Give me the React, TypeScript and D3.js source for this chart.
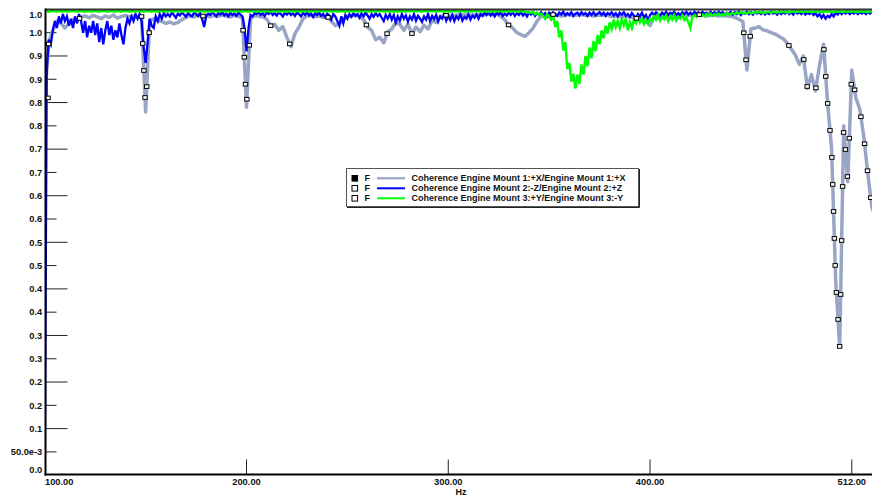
import React, { useMemo } from 'react';
import * as d3 from 'd3';

// ---------------- DATA ----------------
const START_HZ = 100;
const END_HZ = 512;
const GRAY_STEP_HZ = 2;
const BLUE_STEP_HZ = 1;
const GREEN_STEP_HZ = 1;

const seriesNames = [
  'Coherence Engine Mount 1:+X/Engine Mount 1:+X',
  'Coherence Engine Mount 2:-Z/Engine Mount 2:+Z',
  'Coherence Engine Mount 3:+Y/Engine Mount 3:-Y',
];

// Mount 1 (+X) coherence, 2 Hz resolution, 100..512 Hz
const mount1Values = [
  0.81, 0.93, 0.955, 0.975, 0.97, 0.96, 0.97, 0.978, 0.975, 0.984,
  0.986, 0.982, 0.987, 0.984, 0.98, 0.986, 0.983, 0.988, 0.981, 0.985,
  0.987, 0.984, 0.986, 0.983, 0.985, 0.78, 0.975, 0.98, 0.976, 0.974,
  0.97, 0.973, 0.969, 0.972, 0.978, 0.983, 0.986, 0.984, 0.987, 0.985,
  0.988, 0.984, 0.987, 0.985, 0.988, 0.986, 0.984, 0.987, 0.985, 0.982,
  0.79, 0.98, 0.987, 0.985, 0.984, 0.979, 0.965, 0.968, 0.955, 0.963,
  0.94, 0.92, 0.948, 0.962, 0.98, 0.986, 0.987, 0.984, 0.986, 0.983,
  0.985, 0.975, 0.965, 0.97, 0.978, 0.984, 0.986, 0.988, 0.985, 0.978,
  0.962, 0.955, 0.935, 0.94, 0.928, 0.952, 0.958, 0.972, 0.968, 0.955,
  0.968, 0.948, 0.962, 0.952, 0.966, 0.958, 0.976, 0.972, 0.985, 0.987,
  0.988, 0.986, 0.988, 0.987, 0.989, 0.986, 0.988, 0.987, 0.989, 0.988,
  0.99, 0.989, 0.99, 0.985, 0.978, 0.966, 0.96, 0.95, 0.946, 0.942,
  0.95, 0.96, 0.975, 0.985, 0.988, 0.987, 0.989, 0.988, 0.986, 0.988,
  0.989, 0.987, 0.988, 0.989, 0.987, 0.988, 0.986, 0.988, 0.987, 0.989,
  0.986, 0.984, 0.986, 0.983, 0.985, 0.984, 0.982, 0.98, 0.978, 0.975,
  0.965, 0.984, 0.987, 0.988, 0.986, 0.988, 0.989, 0.987, 0.988, 0.986,
  0.988, 0.987, 0.989, 0.988, 0.986, 0.987, 0.988, 0.986, 0.987, 0.986,
  0.985, 0.983, 0.979, 0.974, 0.87, 0.958, 0.96, 0.963, 0.956, 0.954,
  0.95, 0.947, 0.942, 0.937, 0.928, 0.915, 0.902, 0.882, 0.9, 0.83,
  0.86, 0.825, 0.88, 0.925, 0.8, 0.7, 0.42, 0.275, 0.75, 0.63,
  0.87, 0.81, 0.785, 0.725, 0.645, 0.575, 0.55,
];

// Mount 2 (-Z) coherence, 1 Hz resolution, 100..512 Hz
const mount2Values = [
  0.0, 0.87, 0.935, 0.925, 0.955, 0.975, 0.96, 0.985, 0.97, 0.99,
  0.975, 0.985, 0.965, 0.98, 0.96, 0.985, 0.97, 0.99, 0.975, 0.95,
  0.975, 0.94, 0.965, 0.95, 0.975, 0.945, 0.97, 0.93, 0.96, 0.925,
  0.955, 0.975, 0.945, 0.965, 0.935, 0.955, 0.94, 0.97, 0.945, 0.925,
  0.96, 0.98, 0.97, 0.985, 0.975, 0.99, 0.98, 0.99, 0.975, 0.92,
  0.885, 0.93, 0.98, 0.965, 0.96, 0.985, 0.975, 0.99, 0.98, 0.992,
  0.985, 0.99, 0.985, 0.993, 0.988, 0.982, 0.991, 0.987, 0.994, 0.989,
  0.984, 0.992, 0.988, 0.985, 0.993, 0.99, 0.986, 0.992, 0.98, 0.962,
  0.985, 0.991, 0.988, 0.994, 0.99, 0.985, 0.992, 0.989, 0.994, 0.987,
  0.991, 0.985, 0.993, 0.988, 0.991, 0.986, 0.993, 0.989, 0.985, 0.96,
  0.91, 0.96, 0.988, 0.985, 0.992, 0.99, 0.994, 0.988, 0.992, 0.986,
  0.993, 0.99, 0.995, 0.988, 0.992, 0.987, 0.994, 0.99, 0.985, 0.993,
  0.989, 0.994, 0.988, 0.992, 0.986, 0.993, 0.99, 0.985, 0.992, 0.988,
  0.994, 0.987, 0.991, 0.984, 0.992, 0.988, 0.993, 0.986, 0.99, 0.983,
  0.991, 0.987, 0.978, 0.99, 0.985, 0.975, 0.965, 0.985, 0.97, 0.988,
  0.98, 0.99, 0.984, 0.992, 0.986, 0.99, 0.982, 0.991, 0.985, 0.993,
  0.987, 0.98, 0.99, 0.984, 0.992, 0.986, 0.99, 0.982, 0.975, 0.988,
  0.98, 0.99, 0.978, 0.988, 0.972, 0.985, 0.976, 0.99, 0.98, 0.987,
  0.974, 0.985, 0.978, 0.99, 0.976, 0.986, 0.98, 0.973, 0.985, 0.978,
  0.99, 0.975, 0.986, 0.979, 0.988, 0.974, 0.985, 0.98, 0.99, 0.976,
  0.986, 0.977, 0.988, 0.975, 0.985, 0.979, 0.99, 0.976, 0.984, 0.98,
  0.99, 0.978, 0.987, 0.982, 0.99, 0.98, 0.99, 0.986, 0.993, 0.988,
  0.994, 0.987, 0.992, 0.985, 0.993, 0.989, 0.994, 0.986, 0.991, 0.987,
  0.993, 0.988, 0.994, 0.986, 0.992, 0.988, 0.994, 0.987, 0.992, 0.985,
  0.993, 0.989, 0.994, 0.986, 0.992, 0.988, 0.994, 0.987, 0.992, 0.985,
  0.993, 0.988, 0.994, 0.99, 0.986, 0.993, 0.989, 0.995, 0.987, 0.992,
  0.988, 0.994, 0.986, 0.991, 0.993, 0.987, 0.994, 0.989, 0.992, 0.986,
  0.993, 0.988, 0.994, 0.987, 0.991, 0.994, 0.988, 0.993, 0.986, 0.992,
  0.989, 0.994, 0.987, 0.992, 0.985, 0.993, 0.988, 0.994, 0.986, 0.99,
  0.984, 0.992, 0.987, 0.982, 0.99, 0.985, 0.993, 0.983, 0.988, 0.975,
  0.988, 0.993, 0.987, 0.994, 0.99, 0.986, 0.993, 0.989, 0.995, 0.988,
  0.993, 0.99, 0.995, 0.988, 0.992, 0.987, 0.994, 0.99, 0.995, 0.989,
  0.993, 0.988, 0.995, 0.991, 0.994, 0.989, 0.995, 0.99, 0.993, 0.988,
  0.995, 0.99, 0.994, 0.989, 0.995, 0.991, 0.994, 0.988, 0.993, 0.99,
  0.995, 0.989, 0.994, 0.99, 0.995, 0.988, 0.993, 0.991, 0.995, 0.99,
  0.994, 0.989, 0.995, 0.991, 0.994, 0.99, 0.995, 0.989, 0.993, 0.99,
  0.995, 0.991, 0.994, 0.989, 0.995, 0.99, 0.994, 0.991, 0.995, 0.99,
  0.994, 0.989, 0.995, 0.991, 0.994, 0.99, 0.995, 0.989, 0.993, 0.99,
  0.994, 0.988, 0.992, 0.985, 0.99, 0.982, 0.988, 0.98, 0.986, 0.983,
  0.99, 0.985, 0.993, 0.989, 0.995, 0.99, 0.994, 0.991, 0.995, 0.99,
  0.994, 0.991, 0.995, 0.99, 0.994, 0.991, 0.995, 0.99, 0.994, 0.991,
  0.995, 0.99, 0.994,
];

// Mount 3 (+Y) coherence, 1 Hz resolution, 100..512 Hz
const mount3Values = [
  0.996, 0.997, 0.995, 0.996, 0.997, 0.996, 0.995, 0.997, 0.996, 0.995,
  0.997, 0.996, 0.995, 0.997, 0.996, 0.997, 0.995, 0.996, 0.997, 0.996,
  0.995, 0.996, 0.997, 0.995, 0.996, 0.997, 0.996, 0.995, 0.997, 0.996,
  0.997, 0.995, 0.996, 0.997, 0.996, 0.995, 0.997, 0.996, 0.995, 0.997,
  0.996, 0.997, 0.995, 0.996, 0.997, 0.995, 0.996, 0.997, 0.996, 0.995,
  0.996, 0.997, 0.996, 0.995, 0.997, 0.996, 0.995, 0.997, 0.996, 0.997,
  0.995, 0.996, 0.997, 0.996, 0.995, 0.997, 0.996, 0.997, 0.995, 0.996,
  0.997, 0.996, 0.995, 0.997, 0.996, 0.995, 0.996, 0.997, 0.996, 0.995,
  0.997, 0.996, 0.997, 0.995, 0.996, 0.997, 0.996, 0.995, 0.997, 0.996,
  0.995, 0.997, 0.996, 0.997, 0.995, 0.996, 0.997, 0.996, 0.995, 0.997,
  0.996, 0.995, 0.997, 0.996, 0.997, 0.995, 0.996, 0.997, 0.996, 0.995,
  0.997, 0.996, 0.995, 0.997, 0.996, 0.997, 0.995, 0.996, 0.997, 0.996,
  0.995, 0.996, 0.997, 0.995, 0.996, 0.997, 0.996, 0.995, 0.997, 0.996,
  0.997, 0.995, 0.996, 0.997, 0.996, 0.995, 0.997, 0.996, 0.995, 0.997,
  0.996, 0.997, 0.995, 0.996, 0.997, 0.995, 0.996, 0.997, 0.996, 0.995,
  0.996, 0.997, 0.996, 0.995, 0.997, 0.996, 0.995, 0.997, 0.996, 0.997,
  0.995, 0.996, 0.997, 0.996, 0.995, 0.997, 0.996, 0.997, 0.995, 0.996,
  0.997, 0.996, 0.995, 0.997, 0.996, 0.995, 0.996, 0.997, 0.996, 0.995,
  0.997, 0.996, 0.997, 0.995, 0.996, 0.997, 0.996, 0.995, 0.997, 0.996,
  0.995, 0.997, 0.996, 0.997, 0.995, 0.996, 0.997, 0.996, 0.995, 0.997,
  0.996, 0.995, 0.997, 0.996, 0.997, 0.995, 0.996, 0.997, 0.996, 0.995,
  0.997, 0.996, 0.995, 0.997, 0.996, 0.997, 0.995, 0.996, 0.997, 0.996,
  0.995, 0.996, 0.997, 0.995, 0.996, 0.997, 0.996, 0.995, 0.997, 0.996,
  0.997, 0.995, 0.996, 0.997, 0.996, 0.995, 0.997, 0.996, 0.995, 0.994,
  0.994, 0.992, 0.995, 0.99, 0.993, 0.988, 0.991, 0.986, 0.98, 0.99,
  0.984, 0.978, 0.988, 0.962, 0.975, 0.94, 0.955, 0.912, 0.93, 0.872,
  0.885, 0.845, 0.862, 0.83, 0.86, 0.84, 0.882, 0.86, 0.9, 0.878,
  0.918, 0.895, 0.932, 0.91, 0.945, 0.925, 0.955, 0.938, 0.965, 0.948,
  0.972, 0.958, 0.978, 0.962, 0.975, 0.96, 0.978, 0.966, 0.98, 0.955,
  0.972, 0.96, 0.978, 0.97, 0.982, 0.972, 0.98, 0.968, 0.978, 0.97,
  0.98, 0.975, 0.985, 0.978, 0.988, 0.976, 0.984, 0.979, 0.987, 0.975,
  0.985, 0.978, 0.988, 0.976, 0.984, 0.98, 0.987, 0.977, 0.982, 0.972,
  0.96, 0.985, 0.988, 0.984, 0.99, 0.986, 0.989, 0.985, 0.99, 0.987,
  0.991, 0.986, 0.99, 0.988, 0.991, 0.987, 0.99, 0.988, 0.992, 0.989,
  0.991, 0.992, 0.99, 0.993, 0.991, 0.994, 0.992, 0.993, 0.991, 0.994,
  0.993, 0.992, 0.994, 0.993, 0.995, 0.993, 0.994, 0.992, 0.995, 0.994,
  0.993, 0.995, 0.994, 0.993, 0.995, 0.994, 0.996, 0.994, 0.995, 0.993,
  0.995, 0.996, 0.994, 0.995, 0.996, 0.995, 0.994, 0.996, 0.995, 0.996,
  0.994, 0.995, 0.996, 0.995, 0.996, 0.994, 0.995, 0.996, 0.995, 0.996,
  0.995, 0.994, 0.996, 0.995, 0.996, 0.995, 0.994, 0.996, 0.995, 0.996,
  0.995, 0.996, 0.995, 0.994, 0.996, 0.995, 0.996, 0.995, 0.994, 0.996,
  0.995, 0.996, 0.995,
];

const yTickValues = [
  0, 0.05, 0.1, 0.15, 0.2, 0.25, 0.3, 0.35, 0.4, 0.45, 0.5,
  0.55, 0.6, 0.65, 0.7, 0.75, 0.8, 0.85, 0.9, 0.95, 1.0,
];
const yTickLabels = [
  '0.0', '50.0e-3', '0.1', '0.2', '0.2', '0.3', '0.3', '0.4', '0.4', '0.5', '0.5',
  '0.6', '0.6', '0.7', '0.7', '0.8', '0.8', '0.9', '0.9', '1.0', '1.0',
];
const xTickValues = [200, 300, 400, 500];
const xTickLabels = ['200.00', '300.00', '400.00', '512.00'];
const xStartLabel = '100.00';
const xAxisTitle = 'Hz';

// ---------------- STYLE ----------------
const W = 872;
const H = 495;
const FONT = "'Liberation Sans', Arial, Helvetica, sans-serif";
const COLORS = ['#98a5c4', '#0000ff', '#00ff00'];

export default function App() {
  const x = d3.scaleLinear().domain([START_HZ, END_HZ]).range([44.75, 876]);
  const y = d3.scaleLinear().domain([0, 1]).range([475.2, 9.4]);
  const plotLeft = 45.5;
  const plotRight = W;
  const plotBottom = 474.5;
  const plotTop = y(1);

  const mkLine = (step: number) =>
    d3
      .line<number>()
      .x((_, i) => x(START_HZ + i * step))
      .y((d) => y(d));

  const grayPath = mkLine(GRAY_STEP_HZ)(mount1Values) || '';
  const bluePath = mkLine(BLUE_STEP_HZ)(mount2Values) || '';
  const greenPath = mkLine(GREEN_STEP_HZ)(mount3Values) || '';

  // markers along the mount 1 trace, placed by a weighted path distance
  const markers = useMemo(() => {
    const pts = mount1Values.map((v, i) => [x(START_HZ + i * GRAY_STEP_HZ), y(v)]);
    const out: number[][] = [];
    const SP = 27;
    const KX = 0.27;
    let acc = 0;
    let next = 0;
    for (let i = 1; i < pts.length; i++) {
      const [x0, y0] = pts[i - 1];
      const [x1, y1] = pts[i];
      const dy = y1 - y0;
      const seg = Math.hypot((x1 - x0) * KX, dy > 0 ? dy : dy * 0.5);
      while (next <= acc + seg) {
        const t = seg > 0 ? (next - acc) / seg : 0;
        out.push([x0 + (x1 - x0) * t, y0 + (y1 - y0) * t]);
        next += SP;
      }
      acc += seg;
    }
    return out.filter((p) => p[0] <= W + 3);
  }, []);

  const legendRows = [178.3, 188.3, 198.3];

  return (
    <svg
      width={W}
      height={H}
      viewBox={`0 0 ${W} ${H}`}
      style={{ position: 'absolute', left: 0, top: 0, background: '#fff' }}
      fontFamily={FONT}
    >
      <defs>
        <clipPath id="plotClip">
          <rect x={plotLeft} y={0} width={plotRight - plotLeft} height={plotBottom} />
        </clipPath>
      </defs>
      <rect x={0} y={0} width={W} height={H} fill="#fff" />

      {/* y ticks */}
      {yTickValues.map((v, i) => {
        if (i === 0 || i === yTickValues.length - 1) return null;
        const long = i % 2 === 0;
        const yy = y(v);
        return (
          <line key={'yt' + i} x1={plotLeft} x2={plotLeft + (long ? 22 : 11)} y1={yy} y2={yy} stroke="#222" strokeWidth={1} />
        );
      })}
      {/* x ticks */}
      {xTickValues.map((v, i) => (
        <line key={'xt' + i} x1={x(v)} x2={x(v)} y1={plotBottom} y2={plotBottom - 15} stroke="#222" strokeWidth={1} />
      ))}

      {/* series */}
      <g clipPath="url(#plotClip)">
        <path d={grayPath} fill="none" stroke={COLORS[0]} strokeWidth={3.5} strokeLinejoin="round" />
        <path d={bluePath} fill="none" stroke={COLORS[1]} strokeWidth={2.3} strokeLinejoin="miter" />
        <path d={greenPath} fill="none" stroke={COLORS[2]} strokeWidth={2.4} strokeLinejoin="miter" />
        {markers.map((p, i) => (
          <rect key={'m' + i} x={Math.max(p[0], 48) - 2.2} y={p[1] - 1.8} width={4.4} height={3.6} fill="#fff" stroke="#000" strokeWidth={1} />
        ))}
      </g>

      {/* frame / axes */}
      <line x1={plotLeft} x2={plotRight} y1={plotTop} y2={plotTop} stroke="#333" strokeWidth={2} />
      <line x1={plotLeft} x2={plotLeft} y1={plotTop - 1} y2={plotBottom + 1} stroke="#000" strokeWidth={2} />
      <line x1={plotLeft - 1} x2={plotRight} y1={plotBottom} y2={plotBottom} stroke="#000" strokeWidth={2} />

      {/* y labels */}
      {yTickValues.map((v, i) => {
        const yy = Math.min(Math.max(y(v), 14.7), 470);
        return (
          <text key={'yl' + i} x={42.3} y={yy} dy="0.35em" textAnchor="end" fontSize={9.3} fontWeight="bold" fill="#111">
            {yTickLabels[i]}
          </text>
        );
      })}

      {/* x labels */}
      <text x={45} y={485} fontSize={9.3} fontWeight="bold" fill="#111">{xStartLabel}</text>
      {xTickValues.map((v, i) => (
        <text key={'xl' + i} x={x(v)} y={485} textAnchor="middle" fontSize={9.3} fontWeight="bold" fill="#111">
          {xTickLabels[i]}
        </text>
      ))}
      <text x={461} y={494.5} textAnchor="middle" fontSize={9} fontWeight="bold" fill="#111">{xAxisTitle}</text>

      {/* legend */}
      <rect x={346.5} y={168.5} width={292} height={38} fill="#fff" stroke="#555" strokeWidth={1} />
      <line x1={639.5} x2={639.5} y1={169} y2={207.5} stroke="#222" strokeWidth={1} />
      <line x1={347} x2={639.5} y1={207.5} y2={207.5} stroke="#222" strokeWidth={1} />
      {seriesNames.map((name, i) => {
        const ry = legendRows[i];
        return (
          <g key={'lg' + i}>
            <rect x={352} y={ry - 2.8} width={5.6} height={5.6} fill={i === 0 ? '#000' : '#fff'} stroke="#000" strokeWidth={1} />
            <text x={364.5} y={ry} dy="0.35em" fontSize={9} fontWeight="bold" fill="#111">F</text>
            <line x1={377} x2={405} y1={ry} y2={ry} stroke={COLORS[i]} strokeWidth={i === 0 ? 2.2 : 2} />
            <text x={411.5} y={ry} dy="0.35em" fontSize={9} fontWeight="bold" fill="#111">{name}</text>
          </g>
        );
      })}
    </svg>
  );
}
